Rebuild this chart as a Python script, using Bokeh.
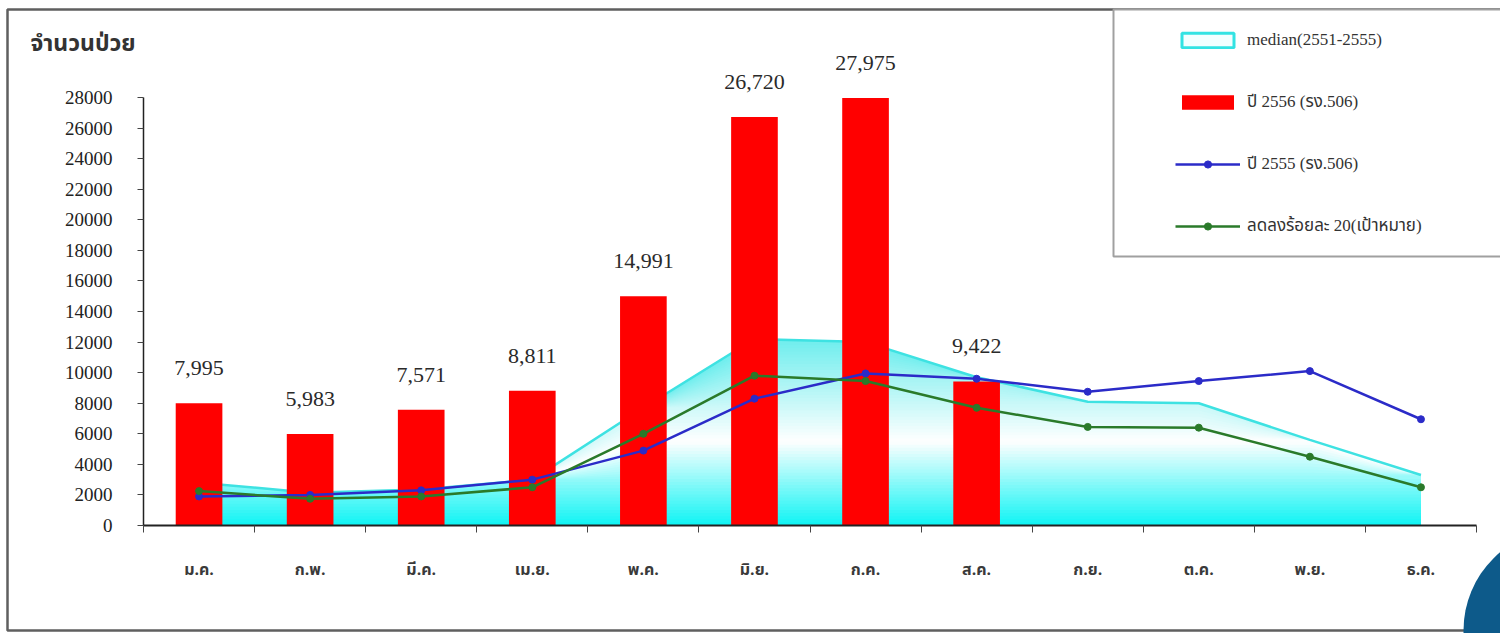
import numpy as np
from bokeh.plotting import figure
from bokeh.models import (Range1d, FixedTicker, BoxAnnotation, Legend, LegendItem,
                          Label, LabelSet, ColumnDataSource, NumeralTickFormatter, LinearAxis)
from bokeh.embed import file_html
from bokeh.resources import INLINE
from bokeh.core.properties import value

# ---------------- data ----------------
months = ["ม.ค.", "ก.พ.", "มี.ค.", "เม.ย.", "พ.ค.", "มิ.ย.",
          "ก.ค.", "ส.ค.", "ก.ย.", "ต.ค.", "พ.ย.", "ธ.ค."]
cases_2556 = [7995, 5983, 7571, 8811, 14991, 26720, 27975, 9422, None, None, None, None]
median_2551_2555 = [2800, 2150, 2350, 3000, 7700, 12200, 12000, 9700, 8100, 8000, 5600, 3300]
cases_2555 = [1900, 2000, 2300, 3000, 4900, 8300, 9950, 9600, 8750, 9450, 10100, 6950]
target_minus20 = [2250, 1750, 1900, 2500, 6000, 9800, 9450, 7700, 6450, 6400, 4500, 2500]
y_ticks = list(range(0, 28001, 2000))

label_median = "median(2551-2555)"
label_2556 = "ปี 2556 (รง.506)"
label_2555 = "ปี 2555 (รง.506)"
label_target = "ลดลงร้อยละ 20(เป้าหมาย)"
y_title = "จำนวนป่วย"

# ---------------- layout constants (pixels) ----------------
W, H = 1500, 633
AXIS_L, AXIS_B = 143, 525   # pixel position of the axes' origin
AXIS_R = 1476               # end of the category axis
Y_TOP_PX = 97               # pixel of 28000
X_SCALE = (AXIS_R - AXIS_L) / 12.0
Y_SCALE = (AXIS_B - Y_TOP_PX) / 28000.0

def px_x(px):
    return (px - AXIS_L) / X_SCALE

def px_y(py):
    return (AXIS_B - py) / Y_SCALE

THAI = "Noto Sans Thai, Tahoma, Noto Sans, sans-serif"
SERIF = "Liberation Serif, Times New Roman, Noto Sans Thai, serif"

p = figure(width=W, height=H,
           x_range=Range1d(px_x(0), px_x(W)), y_range=Range1d(px_y(H), px_y(0)),
           output_backend="svg", toolbar_location=None,
           min_border=0, min_border_left=0, min_border_right=0,
           min_border_top=0, min_border_bottom=0,
           x_axis_location=None, y_axis_location=None)
p.xgrid.visible = False
p.ygrid.visible = False
p.outline_line_color = None
p.background_fill_color = "white"
p.border_fill_color = "white"

xc = np.arange(12) + 0.5
med = np.array(median_2551_2555, dtype=float)

# ---------------- gradient area (median) ----------------
top_val = med.max()
n_bands = 60
c_bot = np.array([14, 244, 244])
c_mid = np.array([255, 255, 255])
c_top = np.array([110, 238, 238])

def grad(t):
    if t < 0.45:
        f = t / 0.45
        c = c_bot + (c_mid - c_bot) * f
    else:
        f = (t - 0.45) / 0.55
        c = c_mid + (c_top - c_mid) * f
    c = np.clip(c, 0, 255).astype(int)
    return "#%02x%02x%02x" % tuple(c)

for i in range(n_bands, 0, -1):
    hi = top_val * i / n_bands
    t = (i - 0.5) / n_bands
    p.varea(x=xc, y1=np.zeros(12), y2=np.minimum(med, hi), fill_color=grad(t))

p.line(xc, med, line_color="#3EE2E2", line_width=2.5)

# ---------------- bars ----------------
bar_idx = [i for i, v in enumerate(cases_2556) if v is not None]
bar_src = ColumnDataSource(dict(
    x=[xc[i] for i in bar_idx],
    top=[cases_2556[i] for i in bar_idx],
    txt=["{:,}".format(cases_2556[i]) for i in bar_idx],
))
bars = p.vbar(x="x", top="top", width=0.42, source=bar_src,
              fill_color="#FF0000", line_color=None)

# ---------------- lines ----------------
blue = "#2B2BC8"
green = "#2A7A2A"
bl = p.line(xc, cases_2555, line_color=blue, line_width=2.5)
bm = p.scatter(xc, cases_2555, size=7, marker="circle", fill_color=blue, line_color=blue)
gl = p.line(xc, target_minus20, line_color=green, line_width=2.5)
gm = p.scatter(xc, target_minus20, size=7, marker="circle", fill_color=green, line_color=green)

# ---------------- data labels ----------------
labels = LabelSet(x="x", y="top", text="txt", source=bar_src,
                  text_align="center", text_baseline="alphabetic", y_offset=28,
                  text_font=value("Liberation Serif"), text_font_size="22px",
                  text_color="#2a2a2a")
p.add_layout(labels)

# ---------------- axes (fixed at the data origin) ----------------
xa = LinearAxis(fixed_location=0)
xa.ticker = FixedTicker(ticks=list(xc), minor_ticks=list(range(13)))
xa.major_label_overrides = {float(c): m for c, m in zip(xc, months)}
xa.bounds = (0, 12)
xa.major_tick_in = 0
xa.major_tick_out = 0
xa.minor_tick_in = 0
xa.minor_tick_out = 7
xa.minor_tick_line_color = "#444444"
xa.axis_line_color = "#222222"
xa.axis_line_width = 2
xa.major_label_standoff = 25
xa.major_label_text_font = THAI
xa.major_label_text_font_size = "16px"
xa.major_label_text_font_style = "bold"
xa.major_label_text_color = "#3a3a3a"
p.add_layout(xa, "below")

ya = LinearAxis(fixed_location=0)
ya.ticker = FixedTicker(ticks=y_ticks)
ya.formatter = NumeralTickFormatter(format="0")
ya.bounds = (0, 28000)
ya.major_tick_in = 0
ya.major_tick_out = 6
ya.minor_tick_line_color = None
ya.axis_line_color = "#222222"
ya.axis_line_width = 1.5
ya.major_tick_line_color = "#444444"
ya.major_label_standoff = 25
ya.major_label_text_font = "Liberation Serif"
ya.major_label_text_font_size = "19px"
ya.major_label_text_color = "#222222"
p.add_layout(ya, "left")

# y title
p.add_layout(Label(x=px_x(30), y=px_y(43), text=y_title, text_align="left",
                   text_baseline="middle", text_font=THAI, text_font_size="23px",
                   text_font_style="bold", text_color="#333333"))

# ---------------- outer frame & legend box ----------------
p.add_layout(BoxAnnotation(left=px_x(7), right=px_x(1530), top=px_y(9), bottom=px_y(630),
                           fill_color=None, fill_alpha=0, line_color="#5f5f5f",
                           line_alpha=1.0, line_width=2.5))
p.add_layout(BoxAnnotation(left=px_x(1113), right=px_x(1530), top=px_y(9), bottom=px_y(256),
                           fill_color="white", fill_alpha=1.0, line_color="#a0a0a0",
                           line_alpha=1.0, line_width=2))

leg_med = p.quad(left=[np.nan], right=[np.nan], top=[np.nan], bottom=[np.nan],
                 fill_color="#F2FFFF", line_color="#33E3E3", line_width=3)

ROW_H, ROW_GAP = 26, 36
LEG_TOP = 40 - ROW_H / 2
LEG_H = 4 * ROW_H + 3 * ROW_GAP
legend = Legend(items=[
    LegendItem(label=label_median, renderers=[leg_med], index=0),
    LegendItem(label=label_2556, renderers=[bars]),
    LegendItem(label=label_2555, renderers=[bl, bm]),
    LegendItem(label=label_target, renderers=[gl, gm]),
], location=(1175, H - LEG_TOP - LEG_H),
    padding=0, margin=0, spacing=ROW_GAP, glyph_width=65, glyph_height=18,
    label_height=ROW_H, label_standoff=7, border_line_color=None, background_fill_alpha=0,
    label_text_font=SERIF, label_text_font_size="17px", label_text_color="#333333")
p.add_layout(legend)

# ---------------- decorative corner circle ----------------
p.add_layout(BoxAnnotation(left=px_x(1463), right=px_x(1667), top=px_y(528), bottom=px_y(732),
                           border_radius=102, fill_color="#0D5A8A", fill_alpha=1.0,
                           line_color=None, line_alpha=0))

open("out.html", "w").write(file_html(p, INLINE))
